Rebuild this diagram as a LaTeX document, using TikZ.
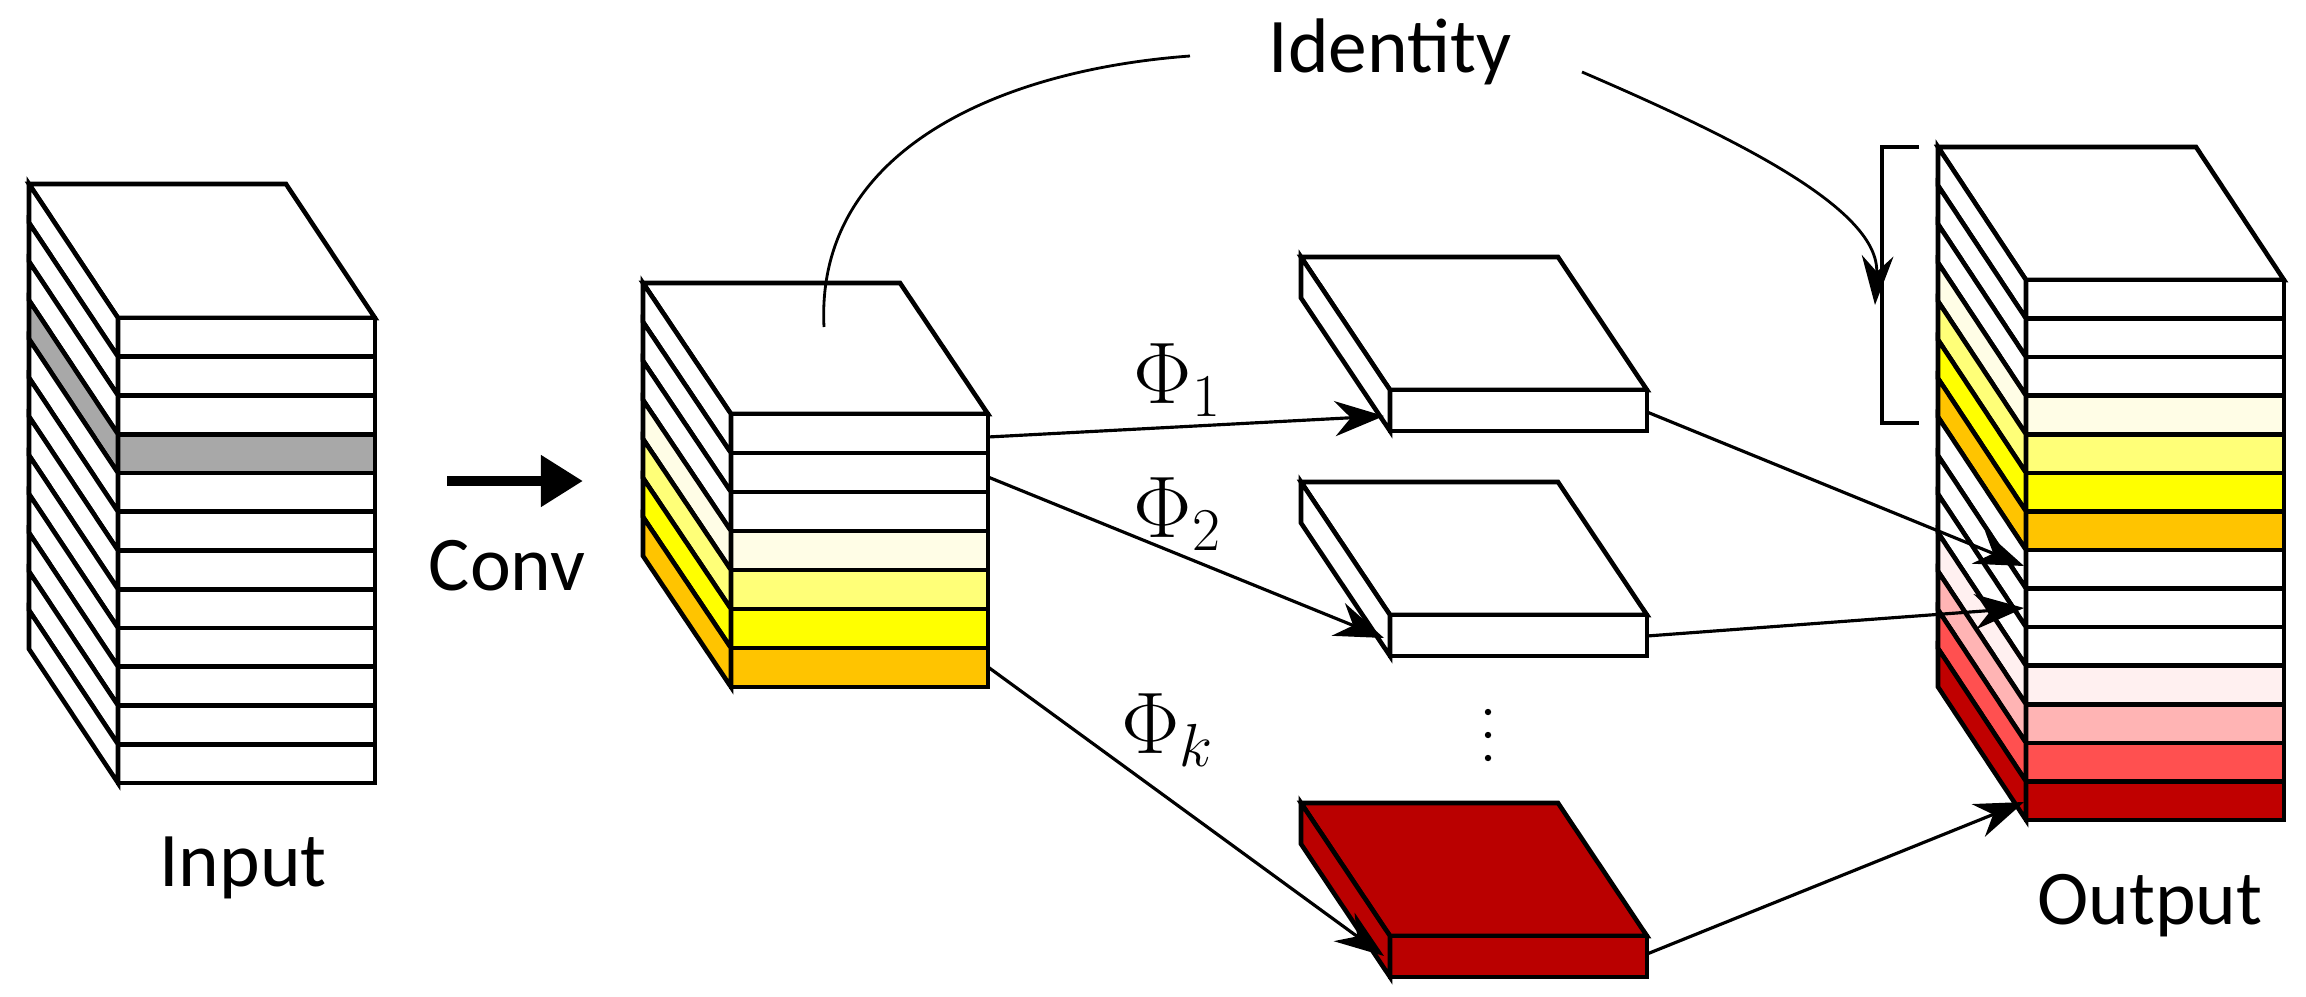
\documentclass[tikz,border=0pt]{standalone}
\usepackage{fontspec}
\setmainfont{Carlito}
\usetikzlibrary{arrows.meta}
\definecolor{cream}{HTML}{FFFDE6}
\definecolor{lyel}{HTML}{FFFF78}
\definecolor{yel}{HTML}{FFFF00}
\definecolor{ora}{HTML}{FFC400}
\definecolor{lpink}{HTML}{FFF0F0}
\definecolor{pink}{HTML}{FFB4B4}
\definecolor{redl}{HTML}{FF5050}
\definecolor{dred}{HTML}{C00000}
\definecolor{slab}{HTML}{BA0000}
\definecolor{gry}{HTML}{A8A8A8}
\tikzset{box/.style={draw=black,line width=1.3pt,line join=miter},
  conn/.style={line width=0.9pt,-{Stealth[length=14pt,width=10pt]}},
  lbl/.style={font=\fontsize{22}{26}\selectfont},
  phi/.style={font=\fontsize{26}{30}\selectfont}}
\newcommand\layerstack[8]{%
  \draw[box,fill=#8] (#1,#2) -- ++(-#5,-#6) -- ++(#3,0) -- ++(#5,#6) -- cycle;
  \foreach \c [count=\i from 0] in {#7}{
    \draw[box,fill=\c] (#1,{#2+\i*#4}) rectangle ++(#3,#4);
    \draw[box,fill=\c] (#1,{#2+\i*#4}) -- ++(-#5,-#6) -- ++(0,#4) -- ++(#5,#6) -- cycle;
  }}
\begin{document}
\begin{tikzpicture}[x=0.01cm,y=-0.01cm]
\useasboundingbox (0,0) rectangle (2306,997);
% input
\layerstack{118}{318}{257}{38.75}{89}{134}{white,white,white,gry,white,white,white,white,white,white,white,white}{white}
% middle
\layerstack{731}{414}{257}{39}{88}{131}{white,white,white,cream,lyel,yel,ora}{white}
% slabs
\layerstack{1390}{390}{257}{41}{89}{133}{white}{white}
\layerstack{1390}{615}{257}{41}{89}{133}{white}{white}
\layerstack{1390}{936}{257}{41}{89}{133}{slab}{slab}
% output
\layerstack{2026}{280}{258}{38.57}{88}{133}{white,white,white,cream,lyel,yel,ora,white,white,white,lpink,pink,redl,dred}{white}
% coordinates
\coordinate (m1) at (988,437); \coordinate (m2) at (988,477); \coordinate (m3) at (988,667);
\coordinate (s1in) at (1384,416); \coordinate (s2in) at (1384,638); \coordinate (s3in) at (1384,956);
\coordinate (s1out) at (1647,412); \coordinate (s2out) at (1647,636); \coordinate (s3out) at (1647,954);
\coordinate (o1) at (2024,566); \coordinate (o2) at (2024,608); \coordinate (o3) at (2024,802);
\draw[conn] (m1) -- (s1in);
\draw[conn] (m2) -- (s2in);
\draw[conn] (m3) -- (s3in);
\draw[conn] (s1out) -- (o1);
\draw[conn] (s2out) -- (o2);
\draw[conn] (s3out) -- (o3);
% labels
\node[lbl] (id) at (1390,52) {Identity};
\node[lbl] (inp) at (243,868) {Input};
\node[lbl] (outp) at (2150,906) {Output};
\node[lbl] (conv) at (507,566) {Conv};
\node[phi] (p1) at (1178,380) {$\Phi_1$};
\node[phi] (p2) at (1178,514) {$\Phi_2$};
\node[phi] (pk) at (1168,730) {$\Phi_k$};
\foreach \yy [count=\k] in {712,735,758} \fill (1488,\yy) circle (3.2);
% conv arrow
\coordinate (ca) at (447,481); \coordinate (cb) at (583,481);
\draw[line width=3pt,-{Triangle[length=12pt,width=14pt]}] (ca) -- (cb);
% identity
\coordinate (ia) at (824,327);
\coordinate (ie) at (1190,56);
\draw[line width=0.8pt] (ia) .. controls (815,150) and (1000,70) .. (ie);
\coordinate (is) at (1582,72);
\coordinate (ib) at (1875,305);
\draw[line width=0.8pt,-{Stealth[length=14pt,width=9pt]}] (is) .. controls (1740,140) and (1880,210) .. (ib);
% bracket
\coordinate (b1) at (1919,147); \coordinate (b2) at (1919,423);
\draw[line width=1pt] (b1) -- ++(-37,0) -- ++(0,276) -- (b2);
\end{tikzpicture}
\end{document}
